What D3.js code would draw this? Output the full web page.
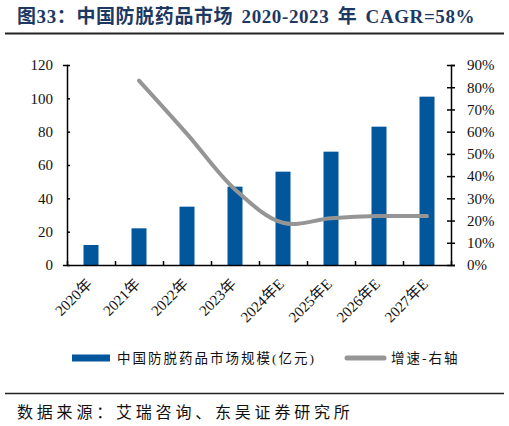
<!DOCTYPE html>
<html>
<head>
<meta charset="utf-8">
<script src="https://cdn.jsdelivr.net/npm/d3@7"></script>
<style>
  body { margin: 0; background: #fff; }
  svg { display: block; }
  text { font-family: "Liberation Serif", "Times New Roman", "Noto Sans CJK SC", serif; }
</style>
</head>
<body>
<svg id="main_svg" width="509" height="426"></svg>
<script>
// chart data
const years = ['2020年', '2021年', '2022年', '2023年', '2024年E', '2025年E', '2026年E', '2027年E'];
const marketSize = [12, 22, 35, 47, 56, 68, 83, 101];
const growth = [null, 0.83, 0.59, 0.34, 0.19, 0.21, 0.22, 0.22];
const leftTicks = [0, 20, 40, 60, 80, 100, 120];
const rightTicks = [0, 0.1, 0.2, 0.3, 0.4, 0.5, 0.6, 0.7, 0.8, 0.9];

const svg = d3.select('#main_svg');
const plot = { left: 67, right: 451, top: 65, bottom: 265 };

// title + rules
svg.append('text')
  .attr('x', 17).attr('y', 23)
  .attr('fill', '#1d3862')
  .style('font-size', '19px')
  .style('font-weight', 'bold')
  .style('letter-spacing', '0.6px')
  .style('word-spacing', '3px')
  .text('图33：中国防脱药品市场 2020-2023 年 CAGR=58%');

svg.append('line')
  .attr('x1', 5).attr('x2', 504).attr('y1', 33.5).attr('y2', 33.5)
  .attr('stroke', '#222').attr('stroke-width', 2);

svg.append('line')
  .attr('x1', 5).attr('x2', 504).attr('y1', 393.5).attr('y2', 393.5)
  .attr('stroke', '#222').attr('stroke-width', 1.5);

svg.append('text')
  .attr('x', 17).attr('y', 418)
  .attr('fill', '#111')
  .style('font-size', '16px')
  .style('letter-spacing', '3.8px')
  .text('数据来源：艾瑞咨询、东吴证券研究所');

// scales
const x = d3.scaleBand().domain(years).range([plot.left, plot.right]);
const xEdge = d3.scaleLinear().domain([0, years.length]).range([plot.left, plot.right]);
const yLeft = d3.scaleLinear().domain([0, 120]).range([plot.bottom, plot.top]);
const yRight = d3.scaleLinear().domain([0, 0.9]).range([plot.bottom, plot.top]);

// bars
svg.append('g')
  .selectAll('rect')
  .data(marketSize)
  .enter()
  .append('rect')
  .attr('x', (d, i) => x(years[i]) + x.bandwidth() / 2 - 7.5)
  .attr('width', 15)
  .attr('y', d => yLeft(d))
  .attr('height', d => yLeft(0) - yLeft(d))
  .attr('fill', '#02569b');

// growth line
const line = d3.line()
  .defined(d => d !== null)
  .x((d, i) => x(years[i]) + x.bandwidth() / 2)
  .y(d => yRight(d))
  .curve(d3.curveCatmullRom);

svg.append('path')
  .datum(growth)
  .attr('d', line)
  .attr('fill', 'none')
  .attr('stroke', '#959595')
  .attr('stroke-width', 4)
  .attr('stroke-linecap', 'round');

// axes
const leftAxis = svg.append('g')
  .attr('transform', 'translate(' + plot.left + ',0)')
  .call(d3.axisLeft(yLeft).tickValues(leftTicks).tickSize(4).tickPadding(10));

const rightAxis = svg.append('g')
  .attr('transform', 'translate(' + plot.right + ',0)')
  .call(d3.axisRight(yRight).tickValues(rightTicks).tickSize(4).tickPadding(12)
    .tickFormat(d3.format('.0%')));

const bottomAxis = svg.append('g')
  .attr('transform', 'translate(0,' + plot.bottom + ')')
  .call(d3.axisBottom(xEdge).ticks(years.length).tickSizeInner(-4).tickSizeOuter(0).tickFormat(''));

[leftAxis, rightAxis, bottomAxis].forEach(g => {
  g.select('.domain').attr('stroke', '#000').attr('stroke-width', 1.5);
  g.selectAll('.tick line').attr('stroke', '#000').attr('stroke-width', 1.5);
  g.selectAll('text').attr('fill', '#111').style('font-size', '15px')
    .style('font-family', '"Liberation Serif", "Times New Roman", serif');
});

// right axis ticks cross the line
rightAxis.selectAll('.tick line').attr('x1', -4);
leftAxis.selectAll('.tick line').attr('x2', 3);

// category labels, rotated
svg.append('g')
  .selectAll('text')
  .data(years)
  .enter()
  .append('text')
  .attr('text-anchor', 'end')
  .attr('transform', d => {
    let inst_x = x(d) + x.bandwidth() / 2 + 2;
    let inst_y = plot.bottom + 20;
    return 'translate(' + inst_x + ',' + inst_y + ') rotate(-45)';
  })
  .attr('fill', '#111')
  .style('font-size', '15px')
  .text(d => d);

// legend
const legend = svg.append('g').attr('transform', 'translate(0,358)');
legend.append('rect')
  .attr('x', 72).attr('y', -3.5).attr('width', 38).attr('height', 7)
  .attr('fill', '#02569b');
legend.append('text')
  .attr('x', 117).attr('y', 5)
  .attr('fill', '#111')
  .style('font-size', '13.5px')
  .style('letter-spacing', '2px')
  .text('中国防脱药品市场规模(亿元)');
legend.append('line')
  .attr('x1', 347).attr('x2', 384).attr('y1', 0).attr('y2', 0)
  .attr('stroke', '#959595').attr('stroke-width', 5).attr('stroke-linecap', 'round');
legend.append('text')
  .attr('x', 391).attr('y', 5)
  .attr('fill', '#111')
  .style('font-size', '13.5px')
  .style('letter-spacing', '2px')
  .text('增速-右轴');
</script>
</body>
</html>
